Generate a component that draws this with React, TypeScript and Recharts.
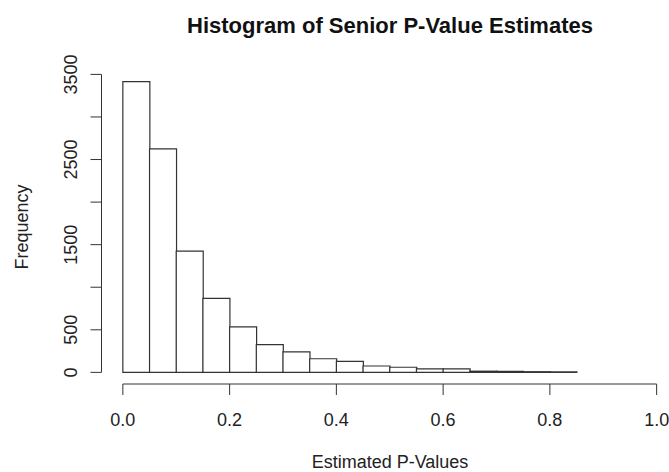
import {
  Bar,
  BarChart,
  ReferenceLine,
  XAxis,
  YAxis,
} from "recharts";

const binStarts = [
  0, 0.05, 0.1, 0.15, 0.2, 0.25, 0.3, 0.35, 0.4, 0.45, 0.5, 0.55, 0.6, 0.65,
  0.7, 0.75, 0.8,
];
const binCounts = [
  3415, 2625, 1425, 870, 535, 325, 240, 160, 130, 75, 60, 40, 40, 14, 11, 8,
  6,
];
const xTicks = [0, 0.2, 0.4, 0.6, 0.8, 1.0];
const yTicks = [0, 500, 1000, 1500, 2000, 2500, 3000, 3500];
// R drops the y labels that would overlap, only these are printed
const yLabelled = [0, 500, 1500, 2500, 3500];

const BIN_WIDTH = 0.05;
// R pads the axis ranges by 4% on each side
const X_DOMAIN: [number, number] = [-0.04, 1.04];
const Y_MAX = Math.max(...binCounts);
const Y_DOMAIN: [number, number] = [-0.04 * Y_MAX, 1.04 * Y_MAX];

const data = binStarts.map((start, i) => ({
  mid: start + BIN_WIDTH / 2,
  count: binCounts[i],
}));

const FONT = '"Liberation Sans", Arial, Helvetica, sans-serif';
const INK = "#222";
const LINE = "#333";

function YTick({ x, y, payload }: { x?: number; y?: number; payload?: { value: number } }) {
  if (
    typeof x !== "number" ||
    typeof y !== "number" ||
    !payload ||
    !yLabelled.includes(payload.value)
  ) {
    return null;
  }
  const bx = x - 11.5;
  return (
    <text
      x={bx}
      y={y}
      transform={`rotate(-90, ${bx}, ${y})`}
      textAnchor="middle"
      fontSize={18}
      fontFamily={FONT}
      fill={INK}
    >
      {payload.value}
    </text>
  );
}

export default function App() {
  return (
    <div
      style={{
        position: "absolute",
        left: 0,
        top: 0,
        width: 669,
        height: 472,
        overflow: "hidden",
        background: "#fff",
      }}
    >
      <BarChart
        width={680}
        height={472}
        data={data}
        margin={{ top: 70, right: 2, left: 61.5, bottom: 48 }}
        barCategoryGap={0}
        barGap={0}
      >
        <XAxis
          dataKey="mid"
          type="number"
          domain={X_DOMAIN}
          ticks={xTicks}
          allowDataOverflow
          height={40}
          axisLine={false}
          tickLine={{ stroke: LINE }}
          tickSize={11}
          tickMargin={18}
          tickFormatter={(v: number) => v.toFixed(1)}
          tick={{ fontSize: 18, fontFamily: FONT, fill: INK }}
        />
        <YAxis
          type="number"
          domain={Y_DOMAIN}
          ticks={yTicks}
          allowDataOverflow
          width={40}
          axisLine={false}
          tickLine={{ stroke: LINE }}
          tickSize={11}
          tick={<YTick />}
        />
        <ReferenceLine
          segment={[
            { x: 0, y: Y_DOMAIN[0] },
            { x: 1, y: Y_DOMAIN[0] },
          ]}
          stroke={LINE}
          ifOverflow="visible"
        />
        <ReferenceLine
          segment={[
            { x: X_DOMAIN[0], y: 0 },
            { x: X_DOMAIN[0], y: 3500 },
          ]}
          stroke={LINE}
          ifOverflow="visible"
        />
        <Bar
          dataKey="count"
          fill="#fff"
          stroke={LINE}
          strokeWidth={1.2}
          isAnimationActive={false}
        />
      </BarChart>
      <svg
        width={669}
        height={472}
        style={{ position: "absolute", left: 0, top: 0, pointerEvents: "none" }}
      >
        <text
          x={390}
          y={33}
          textAnchor="middle"
          fontSize={22}
          fontWeight="bold"
          fontFamily={FONT}
          fill="#111"
        >
          Histogram of Senior P-Value Estimates
        </text>
        <text
          x={390}
          y={468}
          textAnchor="middle"
          fontSize={18}
          fontFamily={FONT}
          fill={INK}
        >
          Estimated P-Values
        </text>
        <text
          x={28}
          y={227}
          transform="rotate(-90, 28, 227)"
          textAnchor="middle"
          fontSize={18}
          fontFamily={FONT}
          fill={INK}
        >
          Frequency
        </text>
      </svg>
    </div>
  );
}
